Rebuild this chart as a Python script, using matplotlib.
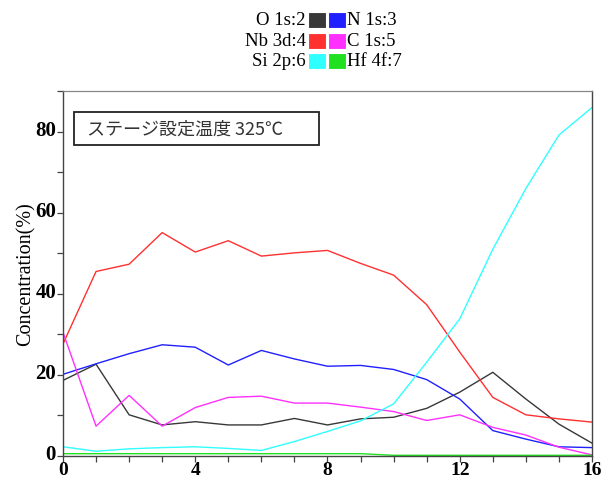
import matplotlib
matplotlib.use("Agg")
import matplotlib.pyplot as plt
import matplotlib.transforms as mtransforms
from matplotlib.patches import Rectangle

# depth / sputter cycle
cycles = list(range(17))

o_1s = [18.6, 22.6, 10.1, 7.6, 8.4, 7.6, 7.6, 9.2, 7.6, 9.1, 9.5, 11.7, 15.7, 20.6, 14.0, 7.8, 3.1]
n_1s = [20.1, 22.7, 25.2, 27.4, 26.8, 22.4, 26.0, 23.9, 22.1, 22.3, 21.3, 18.8, 14.0, 6.2, 4.1, 2.2, 2.0]
nb_3d = [27.6, 45.5, 47.3, 55.1, 50.3, 53.1, 49.3, 50.1, 50.7, 47.5, 44.6, 37.3, 25.6, 14.4, 10.1, 9.1, 8.3]
c_1s = [30.5, 7.3, 14.9, 7.3, 11.9, 14.4, 14.7, 13.0, 13.0, 12.0, 10.9, 8.7, 10.1, 7.0, 5.1, 2.1, 0.2]
si_2p = [2.2, 1.1, 1.7, 2.0, 2.2, 1.8, 1.3, 3.5, 6.0, 8.6, 12.8, 23.1, 33.8, 51.0, 66.0, 79.2, 86.0]
hf_4f = [0.5, 0.5, 0.5, 0.5, 0.5, 0.5, 0.5, 0.5, 0.5, 0.5, 0.1, 0.1, 0.1, 0.1, 0.1, 0.1, 0.1]

series_labels = ["O 1s:2", "N 1s:3", "Nb 3d:4", "C 1s:5", "Si 2p:6", "Hf 4f:7"]
series_colors = ["#383838", "#2020ff", "#ff3030", "#ff30ff", "#30ffff", "#20e020"]

x_ticks = [0, 4, 8, 12, 16]
y_ticks = [0, 20, 40, 60, 80]
y_label = "Concentration(%)"
note = "ステージ設定温度 325℃"

serif = ["Liberation Serif", "DejaVu Serif"]
H = 481.0
W = 608.0

fig = plt.figure(figsize=(6.08, 4.81), dpi=100)
ax = fig.add_axes([0.1036, 0.0505, 0.8701, 0.7576])

for vals, col in zip([o_1s, n_1s, nb_3d, c_1s, si_2p, hf_4f], series_colors):
    ax.plot(cycles, vals, color=col, lw=1.0)

ax.set_xlim(0, 16)
ax.set_ylim(0, 90)
ax.set_xticks(x_ticks)
ax.set_xticks(range(17), minor=True)
ax.set_yticks(y_ticks)
ax.set_yticks(range(0, 91, 10), minor=True)
ax.tick_params(which="both", direction="out", length=4, width=0.9, color="#444444")
ax.tick_params(axis="y", pad=1)
ax.tick_params(axis="x", pad=0)
ax.tick_params(top=False, right=False, which="both")

for lab in ax.get_xticklabels():
    lab.set_fontfamily(serif)
    lab.set_fontweight("bold")
    lab.set_fontsize(14)
shift = mtransforms.ScaledTranslation(0, 4 / 100, fig.dpi_scale_trans)
for lab in ax.get_yticklabels():
    lab.set_fontfamily(serif)
    lab.set_fontweight("bold")
    lab.set_fontsize(15)
    lab.set_transform(lab.get_transform() + shift)

ax.set_ylabel(y_label, family=serif, fontsize=14.5, labelpad=0)

for side in ["left", "bottom", "right"]:
    ax.spines[side].set_color("#444444")
    ax.spines[side].set_linewidth(1.0)
ax.spines["top"].set_color("#888888")
ax.spines["top"].set_linewidth(0.9)

# condition note in a framed box
fig.patches.append(Rectangle((74 / W, 1 - 146 / H), 245 / W, 33 / H,
                             transform=fig.transFigure, fc="white", ec="#222222", lw=1.3))
fig.text(87 / W, 1 - 129.5 / H, note, fontsize=13,
         family=["Noto Sans CJK JP", "DejaVu Sans"], color="#333333", va="center", ha="left")

# legend block above the axes: label, colour swatch pairs
rows_y = [20.7, 41.7, 61.7]
for r in range(3):
    yc = 1 - rows_y[r] / H
    left_lab = series_labels[2 * r]
    right_lab = series_labels[2 * r + 1]
    fig.text(306 / W, yc, left_lab, ha="right", va="center", fontsize=13.5, family=serif)
    fig.text(347 / W, yc, right_lab, ha="left", va="center", fontsize=13.5, family=serif)
    for k, x0 in enumerate([307.5, 327.5]):
        col = series_colors[2 * r + k]
        fig.patches.append(Rectangle((x0 / W, yc - 8 / H), 18 / W, 16 / H,
                                     transform=fig.transFigure, fc=col, ec="white", lw=0.8))

fig.savefig("out.png", dpi=100)
